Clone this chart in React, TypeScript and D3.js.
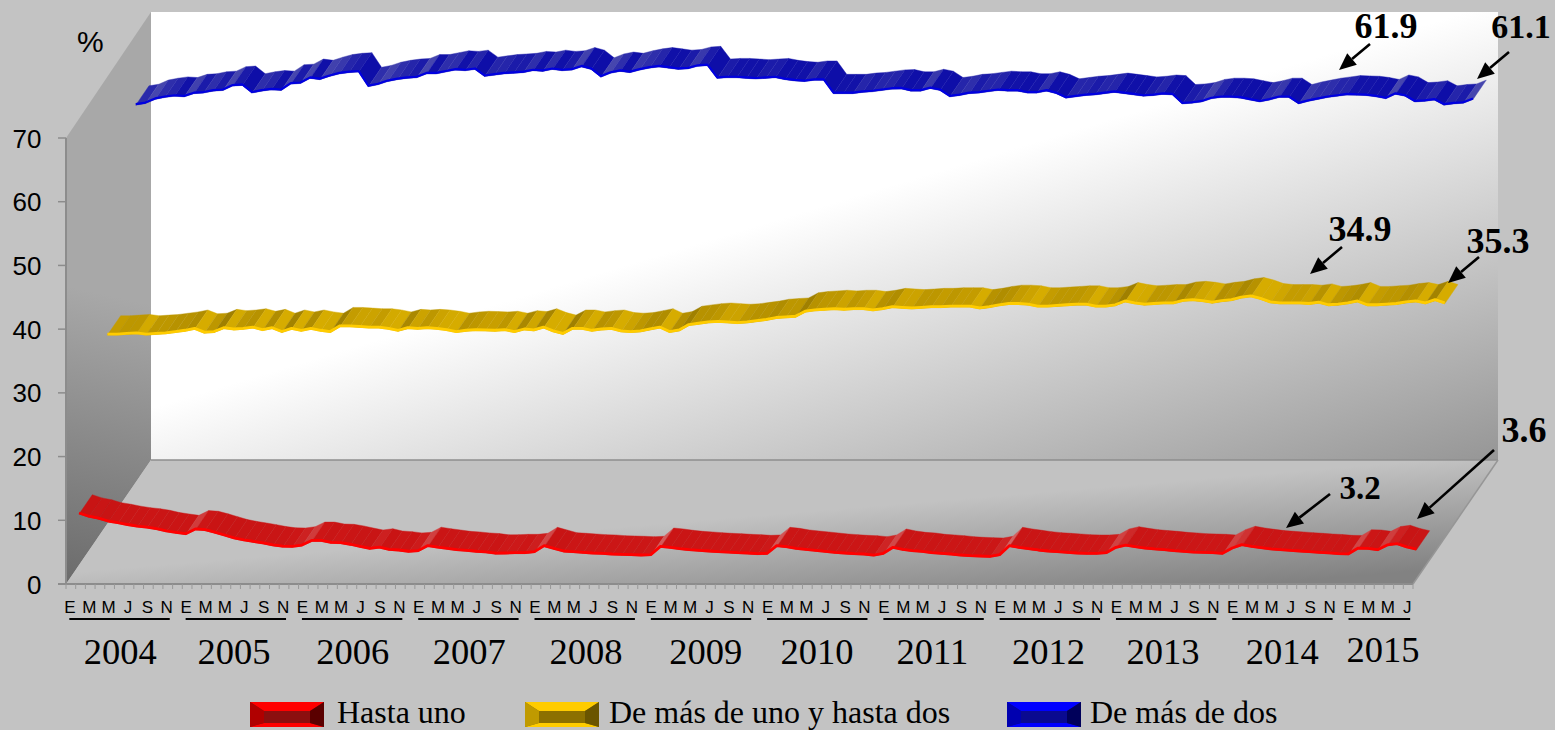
import React from "react";
import * as d3 from "d3";

const years = ["2004","2005","2006","2007","2008","2009","2010","2011","2012","2013","2014","2015"];
const monthLetters = ["E","F","M","A","M","J","J","A","S","O","N","D"];
const totalMonths = 139;
const yTicks = [0,10,20,30,40,50,60,70];

const hastaUno = [
  9.1,8.6,8.3,7.85,7.6,7.3,7.06,6.9,6.65,6.3,6.07,5.86,
  6.6,6.5,6.1,5.65,5.2,4.9,4.65,4.4,4.1,3.9,3.87,4.08,
  4.8,4.8,4.5,4.45,4.2,3.87,3.56,3.76,3.4,3.3,3.1,3.2,
  4.0,3.76,3.56,3.35,3.25,3.1,3.0,2.8,2.83,2.88,2.88,3.04,
  3.98,3.56,3.14,3.04,2.93,2.83,2.78,2.67,2.62,2.57,2.51,2.57,
  3.87,3.72,3.51,3.35,3.25,3.14,3.04,2.98,2.88,2.83,2.72,2.78,
  3.98,3.82,3.56,3.4,3.25,3.09,2.93,2.83,2.72,2.67,2.51,2.78,
  3.72,3.40,3.19,3.09,2.88,2.78,2.67,2.51,2.41,2.36,2.30,2.57,
  3.98,3.72,3.51,3.30,3.14,3.04,2.93,2.83,2.78,2.78,2.88,3.72,
  4.08,3.82,3.61,3.46,3.35,3.19,3.09,2.98,2.93,2.88,2.78,3.61,
  4.14,3.87,3.66,3.46,3.35,3.25,3.14,3.04,2.93,2.85,2.72,2.70,
  3.6,3.56,3.35,4.1,4.3,3.8,3.45,
];

const deUnoADos = [
  30.7,30.7,30.8,30.9,30.7,30.8,30.9,31.1,31.3,31.6,31.0,31.1,
  31.7,31.5,31.6,31.8,31.4,31.7,31.1,31.6,31.3,31.6,31.3,31.1,
  32.0,32.0,31.9,31.8,31.8,31.6,31.3,31.7,31.6,31.7,31.6,31.4,
  31.1,31.3,31.4,31.35,31.3,31.4,31.1,31.5,31.35,31.8,31.2,30.8,
  31.6,31.6,31.3,31.5,31.6,31.2,31.1,31.2,31.5,31.8,31.1,31.35,
  32.2,32.4,32.6,32.7,32.6,32.5,32.6,32.8,33.0,33.3,33.4,33.5,
  34.3,34.5,34.6,34.7,34.6,34.7,34.7,34.5,34.7,35.0,34.9,34.8,
  34.9,35.0,35.0,35.1,35.1,35.1,34.8,35.0,35.3,35.5,35.5,35.4,
  35.1,35.1,35.2,35.3,35.4,35.4,35.1,35.1,35.3,35.9,35.6,35.4,
  35.5,35.6,35.6,36.0,36.1,35.95,35.7,35.95,36.1,36.5,36.7,36.3,
  35.75,35.6,35.6,35.6,35.5,35.7,35.3,35.4,35.6,35.9,35.3,35.3,
  35.4,35.5,35.75,35.9,35.6,36.1,35.6,
];

const deMasDeDos = [
  60.3,60.55,61.2,61.5,61.7,61.6,62.1,62.2,62.5,62.6,63.3,63.4,
  62.2,62.5,62.7,62.6,63.6,63.7,64.5,64.3,64.8,65.2,65.4,65.5,
  63.2,63.5,64.0,64.3,64.5,64.6,65.2,65.2,65.5,65.8,65.7,65.9,
  64.8,65.0,65.2,65.3,65.4,65.7,65.6,65.9,65.7,65.8,66.3,65.9,
  64.7,65.3,65.6,65.4,65.8,66.1,66.3,66.1,65.9,66.0,66.4,66.5,
  64.5,64.6,64.6,64.5,64.4,64.5,64.6,64.3,64.1,64.0,64.2,64.2,
  62.1,62.1,62.1,62.3,62.4,62.6,62.8,62.85,62.5,62.5,62.9,62.6,
  61.6,61.8,62.1,62.2,62.4,62.6,62.5,62.5,62.2,62.2,62.5,62.1,
  61.4,61.6,61.8,61.9,62.1,62.3,62.1,61.9,61.7,61.8,62.0,61.9,
  60.5,60.6,60.8,61.3,61.5,61.5,61.4,61.1,60.8,61.1,61.5,61.5,
  60.5,60.9,61.2,61.5,61.7,61.9,61.85,61.8,61.6,61.3,62.0,61.7,
  60.8,60.9,61.1,60.3,60.5,60.6,61.2,
];

const seriesNames = ["Hasta uno","De más de uno y hasta dos","De más de dos"];
const seriesValues = [hastaUno, deUnoADos, deMasDeDos];
const calloutTexts = ["3.2","3.6","34.9","35.3","61.9","61.1"];

const W = 1555, H = 730;
const left = 66, right = 1413, floorY = 584, topY = 138;
const depthX = 85, depthY = 124;
const ribbonDepth = 0.156;
const yearNudge = [1,-1.5,1,1,1.5,5,0,-1,-1,-3,0,4];

const x = d3.scaleBand<number>().domain(d3.range(totalMonths)).range([left, right]);
const xc = (i: number) => (x(i) as number) + x.bandwidth() / 2;
const y = d3.scaleLinear().domain([0, 70]).range([floorY, topY]);
const depthScale = d3.scaleLinear().domain([0, 3]).range([0, 1]);
const frontDepth = (k: number) => depthScale(k + 0.29);
const project = (i: number, v: number, d: number): [number, number] => [xc(i) + d * depthX, y(v) - d * depthY];

const styles = [
  { front: "#ff0000", flat: "#cc1616", fall: "#c81414", rise: "#d88080", riseDiv: 13, fallDiv: 3, width: 2.8 },
  { front: "#ffcc00", flat: "#c49c00", fall: "#d6ac00", rise: "#a08000", riseDiv: 3.5, fallDiv: 1.5, width: 2.8 },
  { front: "#0000e0", flat: "#1212a8", fall: "#0e0ea8", rise: "#4646ae", riseDiv: 3.5, fallDiv: 3, width: 2.2 },
];
const swatches = [
  { hi: "#ff0000", mid: "#8c0f0f", side1: "#b00000", side2: "#5a0000" },
  { hi: "#ffcc00", mid: "#8c7000", side1: "#c09a00", side2: "#6a5500" },
  { hi: "#0000ff", mid: "#0a0a90", side1: "#0000b0", side2: "#00005a" },
];

function segColor(k: number, dy: number) {
  const s = styles[k];
  if (dy <= 0) return d3.interpolateRgb(s.flat, s.rise)(Math.min(1, -dy / s.riseDiv));
  return d3.interpolateRgb(s.flat, s.fall)(Math.min(1, dy / s.fallDiv));
}

function Ribbon({ k }: { k: number }) {
  const vals = seriesValues[k];
  const d0 = frontDepth(k);
  const d1 = d0 + ribbonDepth;
  const line = d3.line();
  const front = vals.map((v, i) => project(i, v, d0));
  return (
    <g>
      {vals.slice(0, -1).map((v, i) => {
        const a = project(i, v, d0), b = project(i + 1, vals[i + 1], d0);
        const c = project(i + 1, vals[i + 1], d1), e = project(i, v, d1);
        const col = segColor(k, b[1] - a[1]);
        return <path key={i} d={line([a, b, c, e]) + "Z"} fill={col} stroke={col} strokeWidth={0.4} />;
      })}
      <path d={line(front) as string} fill="none" stroke={styles[k].front} strokeWidth={styles[k].width} transform="translate(0,-1)" strokeLinejoin="round" />
    </g>
  );
}

function Arrow({ from, to }: { from: [number, number]; to: [number, number] }) {
  const a = Math.atan2(to[1] - from[1], to[0] - from[0]);
  const L = 17, w = 7.5;
  const bx = to[0] - L * Math.cos(a), by = to[1] - L * Math.sin(a);
  const px = -Math.sin(a) * w, py = Math.cos(a) * w;
  return (
    <g>
      <line x1={from[0]} y1={from[1]} x2={bx} y2={by} stroke="#000" strokeWidth={2.6} />
      <polygon points={`${to[0]},${to[1]} ${bx + px},${by + py} ${bx - px},${by - py}`} fill="#000" />
    </g>
  );
}

const callouts: { x: number; y: number; from: [number, number]; to: [number, number]; size: number }[] = [
  { x: 1360, y: 499, from: [1330, 494], to: [1286, 528], size: 33 },
  { x: 1524, y: 442, from: [1494, 450], to: [1417, 519], size: 36 },
  { x: 1360, y: 241, from: [1342, 247], to: [1310, 274], size: 36 },
  { x: 1498, y: 253, from: [1479, 257], to: [1448, 283], size: 36 },
  { x: 1386, y: 38, from: [1370, 44], to: [1339, 70], size: 36 },
  { x: 1521, y: 38, from: [1509, 52], to: [1477, 79], size: 34 },
];

const legendPos = [
  { sx: 250, tx: 337 },
  { sx: 525, tx: 609 },
  { sx: 1007, tx: 1090 },
];

function Swatch({ sx, k }: { sx: number; k: number }) {
  const s = swatches[k];
  const t = 702, b = 727, l = sx, r = sx + 74, bw = 14, bh = 9;
  return (
    <g>
      <rect x={l} y={t} width={74} height={25} fill={s.mid} />
      <polygon points={`${l},${t} ${r},${t} ${r - bw},${t + bh} ${l + bw},${t + bh}`} fill={s.hi} />
      <polygon points={`${l},${b} ${r},${b} ${r - bw},${b - 4} ${l + bw},${b - 4}`} fill={s.hi} />
      <polygon points={`${l},${t} ${l + bw},${t + bh} ${l + bw},${b - 4} ${l},${b}`} fill={s.side1} />
      <polygon points={`${r},${t} ${r - bw},${t + bh} ${r - bw},${b - 4} ${r},${b}`} fill={s.side2} />
    </g>
  );
}

export default function App() {
  const bl = [left + depthX, floorY - depthY];
  const br = [right + depthX, floorY - depthY];
  const topBack = topY - depthY - 2;
  const sans = "'Liberation Sans', Arial, sans-serif";
  const serif = "'Liberation Serif', 'Times New Roman', serif";
  return (
    <svg width={W} height={H} viewBox={`0 0 ${W} ${H}`} style={{ position: "absolute", left: 0, top: 0, display: "block" }}>
      <defs>
        <linearGradient id="back" gradientUnits="userSpaceOnUse" x1={500} y1={303} x2={626} y2={722}>
          <stop offset="0" stopColor="#ffffff" />
          <stop offset="1" stopColor="#969696" />
        </linearGradient>
        <linearGradient id="floor" gradientUnits="userSpaceOnUse" x1={100} y1={570} x2={109} y2={679}>
          <stop offset="0" stopColor="#c2c2c2" />
          <stop offset="1" stopColor="#828282" />
        </linearGradient>
        <linearGradient id="wall" gradientUnits="userSpaceOnUse" x1={66} y1={590} x2={130} y2={300}>
          <stop offset="0" stopColor="#6a6a6a" />
          <stop offset="1" stopColor="#a8a8a8" />
        </linearGradient>
      </defs>
      <rect width={W} height={H} fill="#c3c3c3" />
      <rect x={bl[0]} y={topBack} width={br[0] - bl[0]} height={bl[1] - topBack} fill="url(#back)" />
      <polygon points={`${left},${topY} ${bl[0]},${topBack} ${bl[0]},${bl[1]} ${left},${floorY}`} fill="url(#wall)" />
      <polygon points={`${left},${floorY} ${bl[0]},${bl[1]} ${br[0]},${br[1]} ${right},${floorY}`} fill="url(#floor)" />
      <line x1={bl[0]} y1={bl[1]} x2={br[0]} y2={br[1]} stroke="#8e8e8e" strokeWidth={1.5} />
      <line x1={right} y1={floorY} x2={br[0]} y2={br[1]} stroke="#969696" strokeWidth={1.5} />
      <line x1={left} y1={topY} x2={left} y2={floorY} stroke="#8c8c8c" strokeWidth={2} />
      <line x1={left - 8} y1={floorY} x2={right} y2={floorY} stroke="#8c8c8c" strokeWidth={2} />
      {yTicks.map((t) => (
        <g key={t}>
          <line x1={left - 8} y1={y(t)} x2={left} y2={y(t)} stroke="#8c8c8c" strokeWidth={1.5} />
          <text x={41.5} y={y(t) + 9.5} textAnchor="end" fontFamily={sans} fontSize={26} fill="#000">{t}</text>
        </g>
      ))}
      <text x={77} y={52} fontFamily={sans} fontSize={30} fill="#000">%</text>
      {d3.range(totalMonths + 1).map((i) => {
        const px = left + i * x.step();
        return <line key={i} x1={px} y1={floorY} x2={px} y2={floorY + 5} stroke="#999" strokeWidth={1} />;
      })}
      {d3.range(0, totalMonths, 2).map((i) => (
        <text key={i} x={xc(i) - 1} y={612.5} textAnchor="middle" fontFamily={sans} fontSize={17} fill="#000">{monthLetters[i % 12]}</text>
      ))}
      {years.map((yr, n) => {
        const first = n * 12;
        const last = Math.min(first + 10, totalMonths - 1);
        return (
          <g key={yr}>
            <line x1={xc(first) - 1.5} x2={xc(last) + 2} y1={619} y2={619} stroke="#000" strokeWidth={2} />
            <text x={(xc(first) + xc(last)) / 2 + yearNudge[n]} y={n === 11 ? 662 : 664} textAnchor="middle" fontFamily={serif} fontSize={36.5} fill="#000">{yr}</text>
          </g>
        );
      })}
      {seriesValues.map((_, k) => <Ribbon key={k} k={k} />)}
      {callouts.map((c, n) => (
        <g key={n}>
          <Arrow from={c.from} to={c.to} />
          <text x={c.x} y={c.y} textAnchor="middle" fontFamily={serif} fontWeight="bold" fontSize={c.size} fill="#000">{calloutTexts[n]}</text>
        </g>
      ))}
      {seriesNames.map((name, k) => (
        <g key={name}>
          <Swatch sx={legendPos[k].sx} k={k} />
          <text x={legendPos[k].tx} y={723} fontFamily={serif} fontSize={32} fill="#000">{name}</text>
        </g>
      ))}
    </svg>
  );
}
